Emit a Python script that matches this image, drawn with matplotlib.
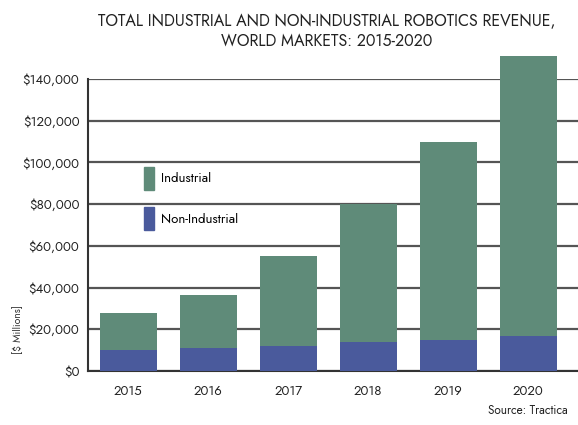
import matplotlib
matplotlib.use("Agg")
import matplotlib.pyplot as plt
import numpy as np
from matplotlib.patches import Patch
from matplotlib.ticker import FuncFormatter

plt.rcParams["font.family"] = ["Jost", "DejaVu Sans"]

years = ["2015", "2016", "2017", "2018", "2019", "2020"]
non_industrial = [10000, 11000, 12000, 14000, 15000, 17000]
industrial = [18000, 25500, 43000, 66000, 95000, 134000]

green = "#5f8b79"
blue = "#4a5a9c"
text_color = "#222222"

fig = plt.figure(figsize=(5.78, 4.25), dpi=100)
ax = fig.add_axes([0.152, 0.127, 0.848, 0.687])

x = np.arange(len(years))
width = 0.71
ax.bar(x, non_industrial, width, color=blue, zorder=3, clip_on=False)
ax.bar(x, industrial, width, bottom=non_industrial, color=green, zorder=3, clip_on=False)

ax.set_ylim(0, 140000)
ax.set_xlim(-0.506, 5.62)
ax.set_yticks(np.arange(0, 140001, 20000))
ax.yaxis.set_major_formatter(FuncFormatter(lambda v, _: f"${v:,.0f}"))
ax.set_xticks(x)
ax.set_xticklabels(years)
ax.tick_params(axis="both", length=0, labelsize=9.5, colors=text_color)
ax.tick_params(axis="x", pad=10)
ax.tick_params(axis="y", pad=6)
ax.grid(axis="y", color="#555555", linewidth=1.6, zorder=0)
for side in ["top", "right"]:
    ax.spines[side].set_visible(False)
for side in ["left", "bottom"]:
    ax.spines[side].set_color("#333333")
    ax.spines[side].set_linewidth(1.5)

fig.text(0.03, 0.225, "[$ Millions]", rotation=90, ha="center", va="center",
         fontsize=7.5, color="#333333")

handles = [Patch(color=green, label="Industrial"), Patch(color=blue, label="Non-Industrial")]
ax.legend(handles=handles, loc="upper left", bbox_to_anchor=(0.09, 0.74),
          frameon=False, fontsize=9.5, handlelength=0.8, handleheight=2.3,
          labelspacing=1.3, handletextpad=0.5)

fig.text(0.565, 0.97, "TOTAL INDUSTRIAL AND NON-INDUSTRIAL ROBOTICS REVENUE,\nWORLD MARKETS: 2015-2020",
         ha="center", va="top", fontsize=11.5, color=text_color, linespacing=1.3)
fig.text(0.845, 0.02, "Source: Tractica", ha="left", va="bottom", fontsize=8.5, color=text_color)

fig.savefig("out.png", dpi=100)
